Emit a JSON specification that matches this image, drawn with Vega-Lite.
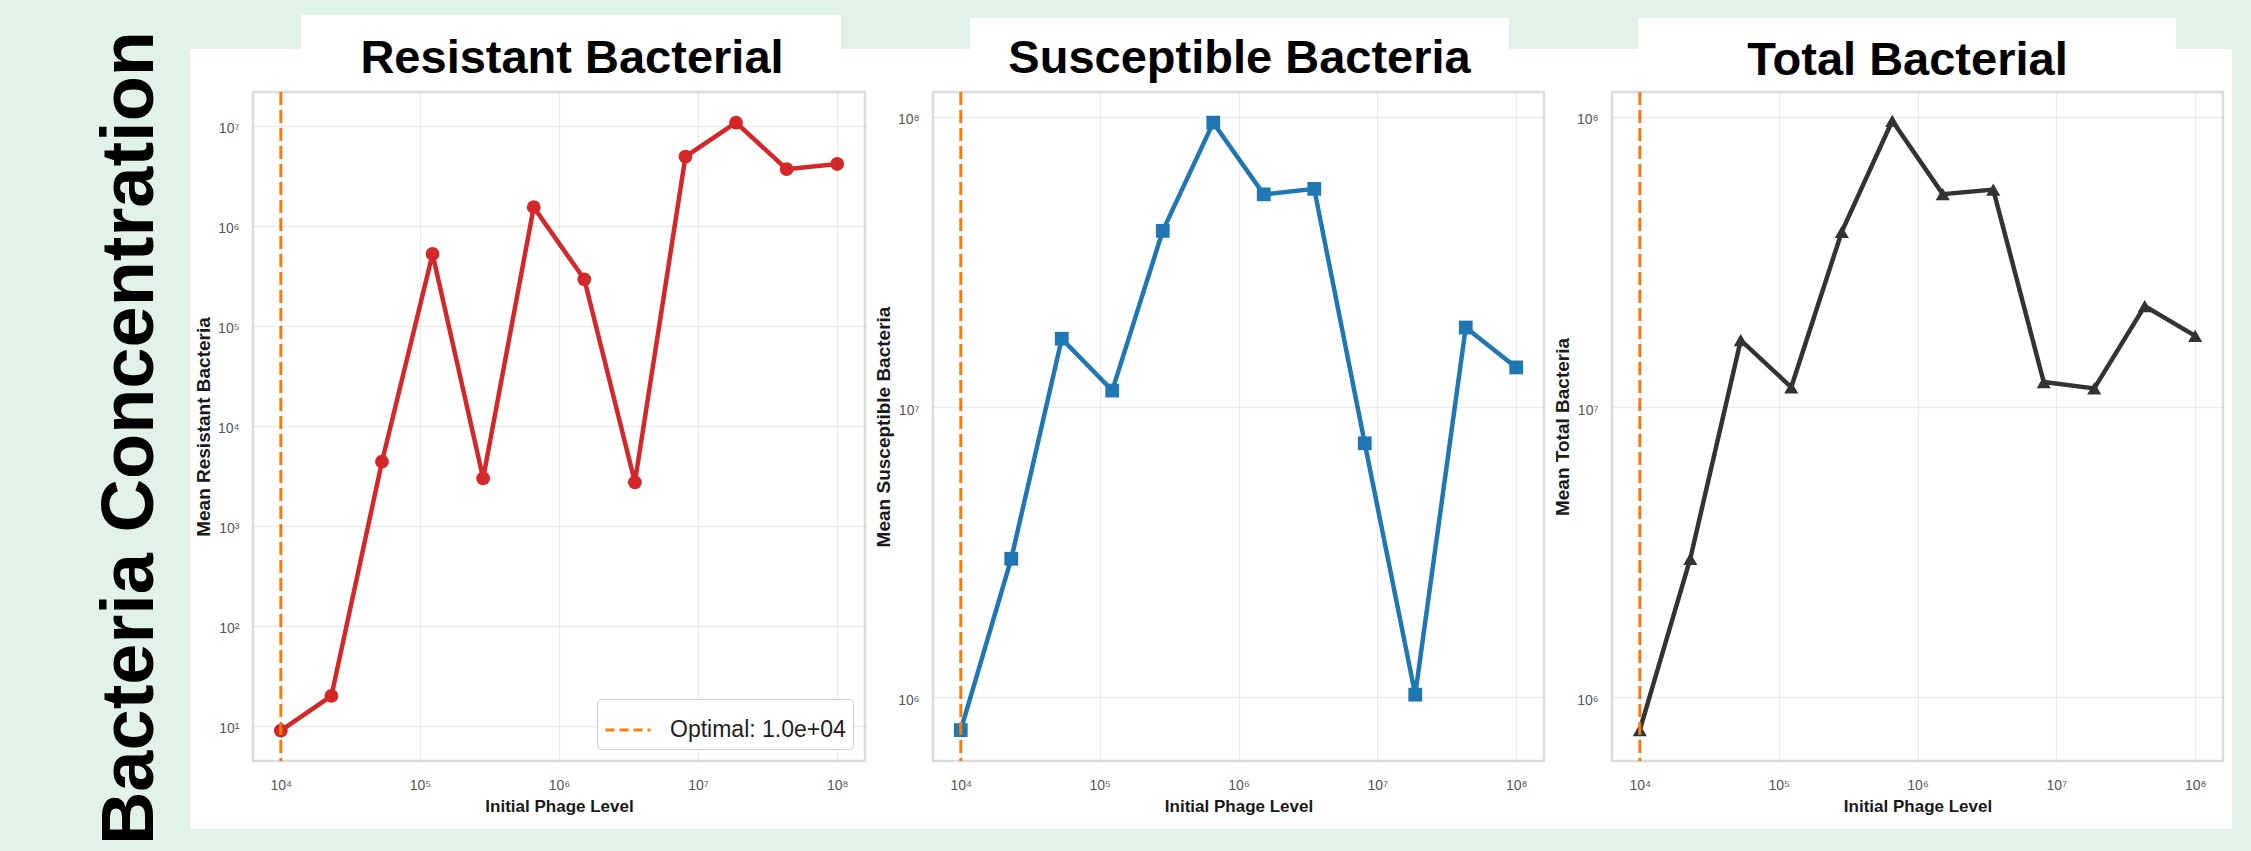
{
  "$schema": "https://vega.github.io/schema/vega-lite/v6.json",
  "background": "#e1f2e6",
  "padding": {"left": 94, "top": 15, "right": 19, "bottom": 6},
  "bounds": "flush",
  "spacing": 68,
  "title": {"text": "Bacteria Concentration", "orient": "left", "anchor": "middle", "frame": "bounds", "baseline": "alphabetic", "offset": -37, "dx": -16, "font": "Liberation Sans", "fontSize": 74, "fontWeight": "bold", "color": "#000000"},
  "datasets": {
    "bacteria": [
      {"phage": 10000, "resistant": 9, "susceptible": 770000, "total": 770000},
      {"phage": 23101, "resistant": 20, "susceptible": 3000000, "total": 3000000},
      {"phage": 53367, "resistant": 4400, "susceptible": 17200000, "total": 17000000},
      {"phage": 123285, "resistant": 525000, "susceptible": 11400000, "total": 11700000},
      {"phage": 284804, "resistant": 3000, "susceptible": 40500000, "total": 40200000},
      {"phage": 657933, "resistant": 1540000, "susceptible": 95600000, "total": 97000000},
      {"phage": 1519911, "resistant": 293000, "susceptible": 54100000, "total": 54200000},
      {"phage": 3511192, "resistant": 2735, "susceptible": 56500000, "total": 56200000},
      {"phage": 8111308, "resistant": 4940000, "susceptible": 7500000, "total": 12200000},
      {"phage": 18738174, "resistant": 10800000, "susceptible": 1020000, "total": 11600000},
      {"phage": 43287613, "resistant": 3700000, "susceptible": 18800000, "total": 22300000},
      {"phage": 100000000, "resistant": 4170000, "susceptible": 13700000, "total": 17600000}
    ],
    "optimal": [{"phage": 10000, "label": "Optimal: 1.0e+04"}]
  },
  "resolve": {
    "scale": {"x": "independent", "y": "independent", "color": "independent"},
    "axis": {"x": "independent", "y": "independent"},
    "legend": {"color": "independent"}
  },
  "hconcat": [
    {
      "width": 612,
      "height": 669,
      "title": {"text": "Resistant Bacterial", "frame": "group", "anchor": "middle", "baseline": "alphabetic", "offset": -105, "dx": 13, "font": "Liberation Sans", "fontSize": 47, "fontWeight": "bold", "color": "#000000"},
      "layer": [
        {
          "data": {"values": [{}]},
          "mark": {"type": "rect", "fill": "#ffffff"},
          "encoding": {
            "x": {"datum": 2224, "type": "quantitative", "scale": {"type": "log", "domain": [6309.57, 158489319], "nice": false}},
            "x2": {"datum": 307400000},
            "y": {"datum": 0.933, "type": "quantitative", "scale": {"type": "log", "domain": [4.4668, 21877616], "nice": false}},
            "y2": {"datum": 58880000}
          }
        },
        {
          "data": {"values": [{}]},
          "mark": {"type": "rect", "fill": "#ffffff"},
          "encoding": {
            "x": {"datum": 13967, "type": "quantitative"},
            "x2": {"datum": 106540000},
            "y": {"datum": 51300000, "type": "quantitative"},
            "y2": {"datum": 128800000}
          }
        },
        {
          "data": {"values": [{}]},
          "mark": {"type": "rect", "filled": false, "stroke": "#dcdcdc", "strokeWidth": 2.5},
          "encoding": {
            "x": {"datum": 6309.57, "type": "quantitative"},
            "x2": {"datum": 158489319},
            "y": {"datum": 4.4668, "type": "quantitative"},
            "y2": {"datum": 21877616}
          }
        },
        {
          "data": {"name": "bacteria"},
          "mark": {"type": "line", "color": "#d62728", "strokeWidth": 4.5},
          "encoding": {
            "x": {"field": "phage", "type": "quantitative", "scale": {"type": "log", "domain": [6309.57, 158489319], "nice": false}, "axis": {"zindex": 1, "values": [10000, 100000, 1000000, 10000000, 100000000], "title": "Initial Phage Level"}},
            "y": {"field": "resistant", "type": "quantitative", "scale": {"type": "log", "domain": [4.4668, 21877616], "nice": false}, "axis": {"zindex": 1, "values": [10, 100, 1000, 10000, 100000, 1000000, 10000000], "title": "Mean Resistant Bacteria"}}
          }
        },
        {
          "data": {"name": "bacteria"},
          "mark": {"type": "point", "filled": true, "shape": "circle", "size": 190, "color": "#d62728", "opacity": 1},
          "encoding": {
            "x": {"field": "phage", "type": "quantitative"},
            "y": {"field": "resistant", "type": "quantitative"}
          }
        },
        {
          "data": {"name": "optimal"},
          "mark": {"type": "rule", "strokeWidth": 3, "strokeDash": [13, 5]},
          "encoding": {
            "x": {"field": "phage", "type": "quantitative"},
            "color": {"field": "label", "type": "nominal", "scale": {"range": ["#ff7f0e"]},
              "legend": {"title": null, "orient": "bottom-right", "offset": 12, "padding": 7, "fillColor": "#ffffff", "strokeColor": "#cccccc", "cornerRadius": 4, "symbolType": "stroke", "symbolStrokeWidth": 3, "symbolDash": [9, 5], "symbolSize": 2025, "labelFont": "Liberation Sans", "labelFontSize": 23, "labelLimit": 400, "labelColor": "#222222", "labelOffset": 18, "zindex": 2}}
          }
        }
      ]
    },
    {
      "width": 611,
      "height": 669,
      "title": {"text": "Susceptible Bacteria", "frame": "group", "anchor": "middle", "baseline": "alphabetic", "offset": -102, "dx": 1, "font": "Liberation Sans", "fontSize": 47, "fontWeight": "bold", "color": "#000000"},
      "layer": [
        {
          "data": {"values": [{}]},
          "mark": {"type": "rect", "fill": "#ffffff"},
          "encoding": {
            "x": {"datum": 3250, "type": "quantitative", "scale": {"type": "log", "domain": [6309.57, 158489319], "nice": false}},
            "x2": {"datum": 297700000},
            "y": {"datum": 351200, "type": "quantitative", "scale": {"type": "log", "domain": [602560, 121900000], "nice": false}},
            "y2": {"datum": 171500000}
          }
        },
        {
          "data": {"values": [{}]},
          "mark": {"type": "rect", "fill": "#ffffff"},
          "encoding": {
            "x": {"datum": 11655, "type": "quantitative"},
            "x2": {"datum": 88740000},
            "y": {"datum": 163500000, "type": "quantitative"},
            "y2": {"datum": 219400000}
          }
        },
        {
          "data": {"values": [{}]},
          "mark": {"type": "rect", "filled": false, "stroke": "#dcdcdc", "strokeWidth": 2.5},
          "encoding": {
            "x": {"datum": 6309.57, "type": "quantitative"},
            "x2": {"datum": 158489319},
            "y": {"datum": 602560, "type": "quantitative"},
            "y2": {"datum": 121900000}
          }
        },
        {
          "data": {"name": "bacteria"},
          "mark": {"type": "line", "color": "#1f77b4", "strokeWidth": 4.5},
          "encoding": {
            "x": {"field": "phage", "type": "quantitative", "scale": {"type": "log", "domain": [6309.57, 158489319], "nice": false}, "axis": {"zindex": 1, "values": [10000, 100000, 1000000, 10000000, 100000000], "title": "Initial Phage Level"}},
            "y": {"field": "susceptible", "type": "quantitative", "scale": {"type": "log", "domain": [602560, 121900000], "nice": false}, "axis": {"zindex": 1, "values": [1000000, 10000000, 100000000], "title": "Mean Susceptible Bacteria"}}
          }
        },
        {
          "data": {"name": "bacteria"},
          "mark": {"type": "point", "filled": true, "shape": "square", "size": 190, "color": "#1f77b4", "opacity": 1},
          "encoding": {
            "x": {"field": "phage", "type": "quantitative"},
            "y": {"field": "susceptible", "type": "quantitative"}
          }
        },
        {
          "data": {"name": "optimal"},
          "mark": {"type": "rule", "color": "#ff7f0e", "strokeWidth": 3, "strokeDash": [13, 5]},
          "encoding": {
            "x": {"field": "phage", "type": "quantitative"}
          }
        }
      ]
    },
    {
      "width": 611,
      "height": 669,
      "title": {"text": "Total Bacterial", "frame": "group", "anchor": "middle", "baseline": "alphabetic", "offset": -104, "dx": -10, "font": "Liberation Sans", "fontSize": 47, "fontWeight": "bold", "color": "#000000"},
      "layer": [
        {
          "data": {"values": [{}]},
          "mark": {"type": "rect", "fill": "#ffffff"},
          "encoding": {
            "x": {"datum": 3250, "type": "quantitative", "scale": {"type": "log", "domain": [6309.57, 158489319], "nice": false}},
            "x2": {"datum": 184050000},
            "y": {"datum": 351200, "type": "quantitative", "scale": {"type": "log", "domain": [602560, 121900000], "nice": false}},
            "y2": {"datum": 171500000}
          }
        },
        {
          "data": {"values": [{}]},
          "mark": {"type": "rect", "fill": "#ffffff"},
          "encoding": {
            "x": {"datum": 9710, "type": "quantitative"},
            "x2": {"datum": 72720000},
            "y": {"datum": 163500000, "type": "quantitative"},
            "y2": {"datum": 219400000}
          }
        },
        {
          "data": {"values": [{}]},
          "mark": {"type": "rect", "filled": false, "stroke": "#dcdcdc", "strokeWidth": 2.5},
          "encoding": {
            "x": {"datum": 6309.57, "type": "quantitative"},
            "x2": {"datum": 158489319},
            "y": {"datum": 602560, "type": "quantitative"},
            "y2": {"datum": 121900000}
          }
        },
        {
          "data": {"name": "bacteria"},
          "mark": {"type": "line", "color": "#333333", "strokeWidth": 4.5},
          "encoding": {
            "x": {"field": "phage", "type": "quantitative", "scale": {"type": "log", "domain": [6309.57, 158489319], "nice": false}, "axis": {"zindex": 1, "values": [10000, 100000, 1000000, 10000000, 100000000], "title": "Initial Phage Level"}},
            "y": {"field": "total", "type": "quantitative", "scale": {"type": "log", "domain": [602560, 121900000], "nice": false}, "axis": {"zindex": 1, "values": [1000000, 10000000, 100000000], "title": "Mean Total Bacteria"}}
          }
        },
        {
          "data": {"name": "bacteria"},
          "mark": {"type": "point", "filled": true, "shape": "triangle-up", "size": 200, "color": "#333333", "opacity": 1},
          "encoding": {
            "x": {"field": "phage", "type": "quantitative"},
            "y": {"field": "total", "type": "quantitative"}
          }
        },
        {
          "data": {"name": "optimal"},
          "mark": {"type": "rule", "color": "#ff7f0e", "strokeWidth": 3, "strokeDash": [13, 5]},
          "encoding": {
            "x": {"field": "phage", "type": "quantitative"}
          }
        }
      ]
    }
  ],
  "config": {
    "view": {"stroke": null},
    "axis": {
      "grid": true,
      "gridColor": "#000000",
      "gridOpacity": 0.075,
      "gridWidth": 1.3,
      "domain": false,
      "ticks": false,
      "labelFlush": false,
      "labelOverlap": false,
      "labelFont": "Liberation Sans",
      "labelFontSize": 14,
      "labelColor": "#555555",
      "labelExpr": "'10' + substring('⁰¹²³⁴⁵⁶⁷⁸⁹', round(log(datum.value)/LN10), round(log(datum.value)/LN10) + 1)",
      "titleFont": "Liberation Sans",
      "titleFontWeight": "bold",
      "titleColor": "#1a1a1a"
    },
    "axisX": {"labelPadding": 17, "titleFontSize": 17, "titlePadding": 6},
    "axisY": {"labelPadding": 14, "titleFontSize": 19, "titlePadding": 4, "labelOffset": 3}
  }
}
